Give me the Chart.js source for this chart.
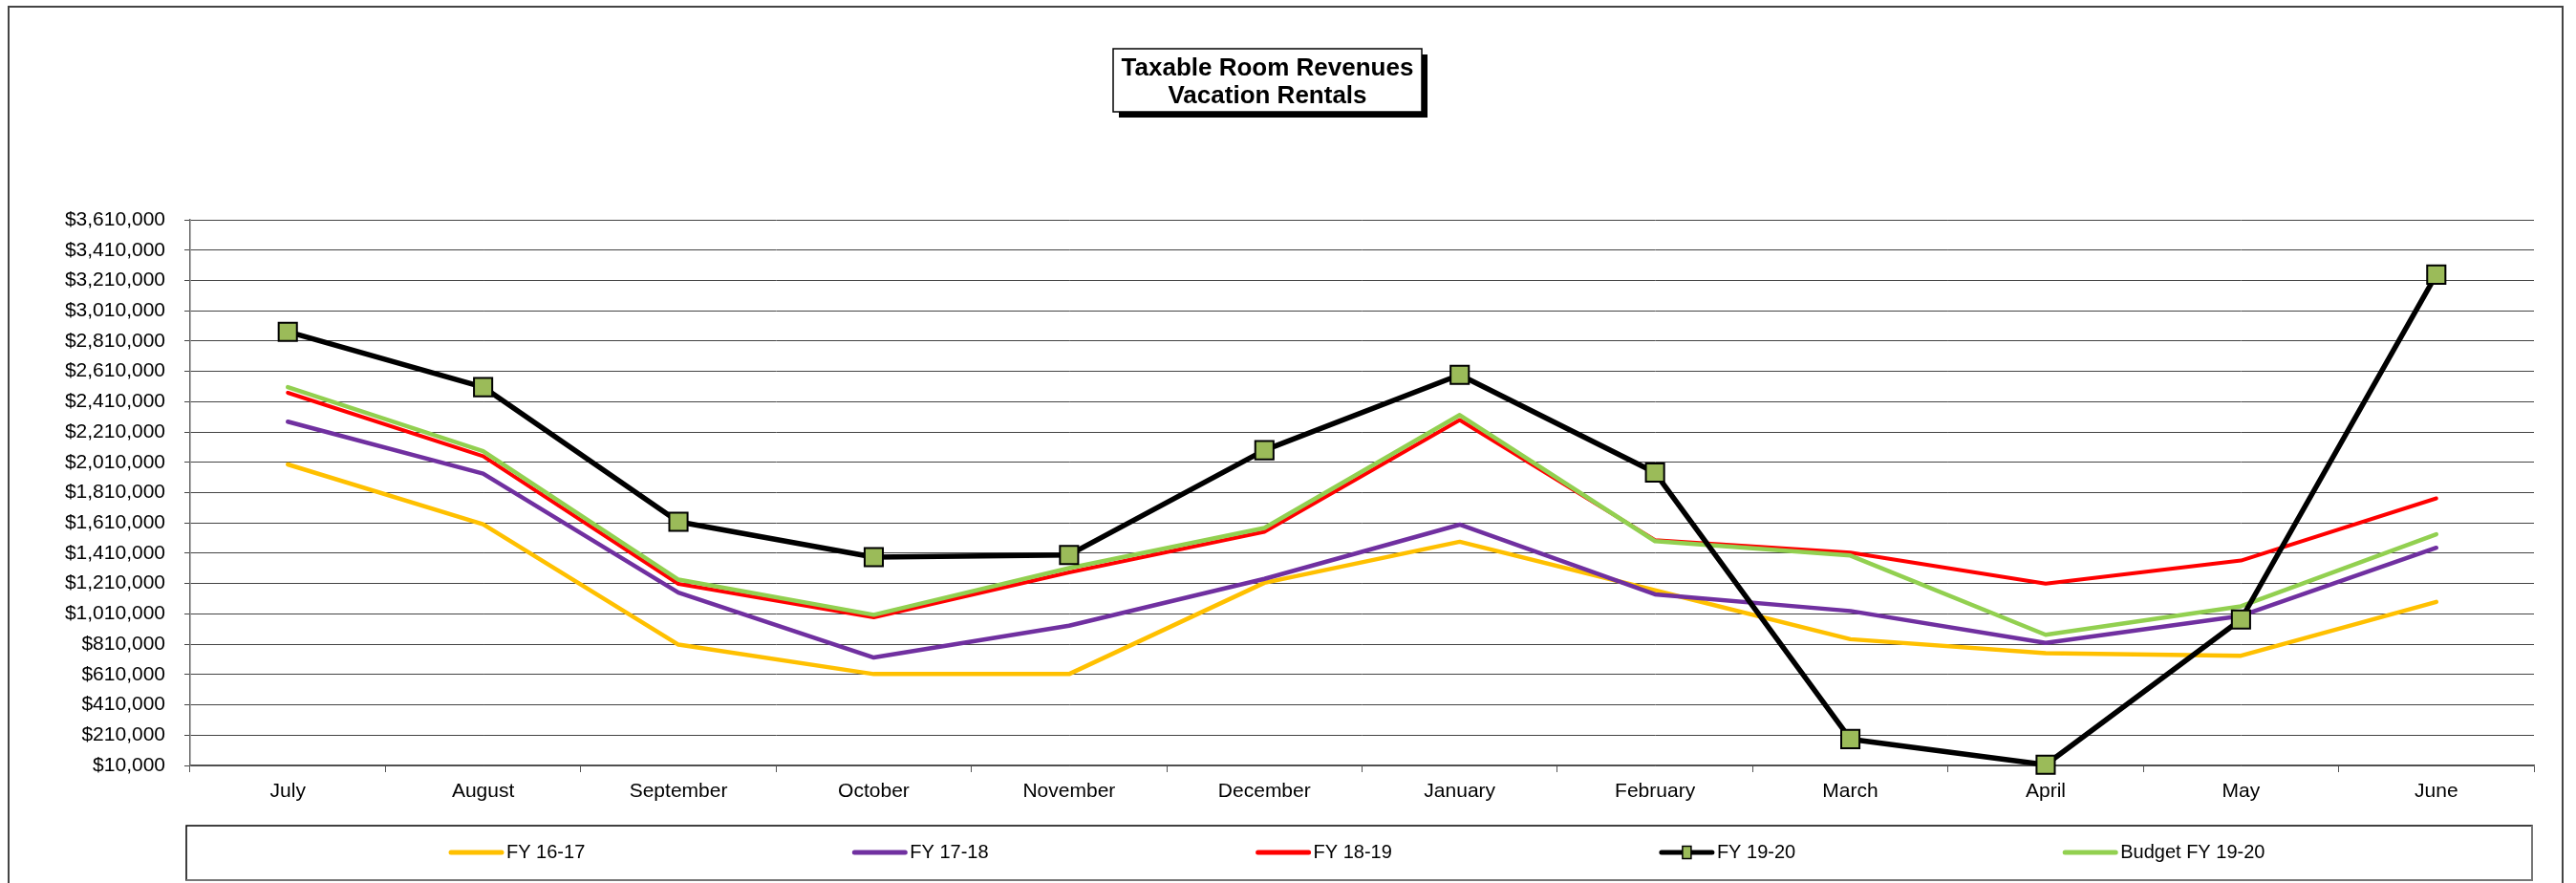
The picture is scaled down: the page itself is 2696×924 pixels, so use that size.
<!DOCTYPE html>
<html>
<head>
<meta charset="utf-8">
<title>Taxable Room Revenues - Vacation Rentals</title>
<script src="https://cdn.jsdelivr.net/npm/chart.js@4.4.1/dist/chart.umd.min.js"></script>
<style>
  html, body { margin: 0; padding: 0; background: #fff; }
  canvas { display: block; }
</style>
</head>
<body>
<canvas id="grafico" width="2696" height="924"></canvas>
<script>
const meses = ["July", "August", "September", "October", "November", "December",
  "January", "February", "March", "April", "May", "June"];

const fy1617 = [1996000, 1601000, 807000, 613000, 613000, 1215000, 1486000, 1165000, 843000, 751000, 734000, 1089000];
const fy1718 = [2278000, 1935000, 1150000, 722000, 932000, 1241000, 1599000, 1139000, 1029000, 819000, 997000, 1446000];
const fy1819 = [2469000, 2050000, 1208000, 987000, 1284000, 1551000, 2289000, 1497000, 1415000, 1210000, 1362000, 1772000];
const fy1920 = [2871000, 2506000, 1618000, 1384000, 1399000, 2090000, 2587000, 1942000, 184000, 15000, 973000, 3248000];
const presupuesto1920 = [2506000, 2083000, 1236000, 1004000, 1312000, 1577000, 2322000, 1490000, 1395000, 872000, 1060000, 1535000];

const yTicks = [10000, 210000, 410000, 610000, 810000, 1010000, 1210000, 1410000, 1610000, 1810000,
  2010000, 2210000, 2410000, 2610000, 2810000, 3010000, 3210000, 3410000, 3610000];

const tituloLineas = ["Taxable Room Revenues", "Vacation Rentals"];

const fuente = "'Liberation Sans', Arial, sans-serif";

// fondo blanco, marco exterior, titulo con sombra y leyenda estilo Excel
const decoracion = {
  id: "decoracion",
  beforeDraw(chart) {
    const ctx = chart.ctx;
    ctx.save();
    ctx.fillStyle = "#fff";
    ctx.fillRect(0, 0, chart.width, chart.height);
    ctx.restore();
  },
  afterDraw(chart) {
    const ctx = chart.ctx;
    ctx.save();

    // marco
    ctx.strokeStyle = "#444";
    ctx.lineWidth = 2;
    ctx.strokeRect(9, 7, 2673, 940);

    // titulo
    ctx.fillStyle = "#000";
    ctx.fillRect(1171, 57, 323, 66);
    ctx.fillStyle = "#fff";
    ctx.fillRect(1165, 51, 323, 66);
    ctx.strokeStyle = "#000";
    ctx.lineWidth = 1.5;
    ctx.strokeRect(1165, 51, 323, 66);
    ctx.fillStyle = "#000";
    ctx.font = "bold 26px " + fuente;
    ctx.textAlign = "center";
    ctx.textBaseline = "middle";
    tituloLineas.forEach((t, i) => ctx.fillText(t, 1326.5, 72 + i * 28.5));

    // leyenda
    ctx.strokeStyle = "#000";
    ctx.lineWidth = 1.5;
    ctx.strokeRect(195, 864, 2455, 57);
    ctx.strokeStyle = "#777";
    ctx.lineWidth = 2;
    ctx.beginPath();
    ctx.moveTo(2650, 864);
    ctx.lineTo(2650, 921);
    ctx.lineTo(195, 921);
    ctx.stroke();

    ctx.font = "20px " + fuente;
    ctx.textAlign = "left";
    ctx.textBaseline = "middle";
    const yLey = 892;
    chart.data.datasets.forEach((ds, i) => {
      const x0 = 472 + i * 422.3;
      ctx.strokeStyle = ds.borderColor;
      ctx.lineWidth = 5;
      ctx.lineCap = "round";
      ctx.beginPath();
      ctx.moveTo(x0, yLey);
      ctx.lineTo(x0 + 53, yLey);
      ctx.stroke();
      if (ds.pointRadius > 0) {
        ctx.fillStyle = ds.pointBackgroundColor;
        ctx.fillRect(x0 + 22, yLey - 6.5, 9, 13);
        ctx.strokeStyle = "#000";
        ctx.lineWidth = 1.5;
        ctx.strokeRect(x0 + 22, yLey - 6.5, 9, 13);
      }
      ctx.fillStyle = "#000";
      ctx.fillText(ds.label, x0 + 58, yLey);
    });

    ctx.restore();
  }
};

function serie(label, data, color, ancho, orden) {
  return {
    label: label,
    data: data,
    borderColor: color,
    backgroundColor: color,
    borderWidth: ancho,
    borderJoinStyle: "round",
    borderCapStyle: "round",
    pointRadius: 0,
    pointHoverRadius: 0,
    tension: 0,
    clip: false,
    order: orden
  };
}

const negra = serie("FY 19-20", fy1920, "#000000", 5.5, 1);
negra.pointStyle = "rect";
negra.pointRadius = 13.5;
negra.pointHoverRadius = 13.5;
negra.pointBackgroundColor = "#9BBB59";
negra.pointBorderColor = "#000000";
negra.pointBorderWidth = 2;

new Chart(document.getElementById("grafico"), {
  type: "line",
  data: {
    labels: meses,
    datasets: [
      serie("FY 16-17", fy1617, "#FFC000", 4.5, 5),
      serie("FY 17-18", fy1718, "#7030A0", 4.5, 4),
      serie("FY 18-19", fy1819, "#FF0000", 4, 3),
      negra,
      serie("Budget FY 19-20", presupuesto1920, "#92D050", 4.5, 2)
    ]
  },
  options: {
    responsive: false,
    animation: false,
    layout: { padding: { top: 230, right: 44, left: 0, bottom: 0 } },
    plugins: {
      legend: { display: false },
      title: { display: false },
      tooltip: { enabled: false }
    },
    scales: {
      x: {
        offset: true,
        grid: { offset: true, drawOnChartArea: false, drawTicks: true, tickLength: 7, color: "#555" },
        border: { color: "#555", width: 1.5 },
        ticks: { color: "#000", font: { size: 21, family: fuente }, padding: 8, maxRotation: 0, autoSkip: false },
        afterFit(scale) { scale.height = 123; }
      },
      y: {
        min: 10000,
        max: 3610000,
        afterBuildTicks(scale) { scale.ticks = yTicks.map(v => ({ value: v })); },
        grid: { color: "#444", lineWidth: 1, tickLength: 6 },
        border: { color: "#666", width: 1.5 },
        ticks: {
          color: "#000",
          font: { size: 21, family: fuente },
          padding: 20,
          callback: v => "$" + Number(v).toLocaleString("en-US")
        },
        afterFit(scale) { scale.width = 199; }
      }
    }
  },
  plugins: [decoracion]
});
</script>
</body>
</html>
